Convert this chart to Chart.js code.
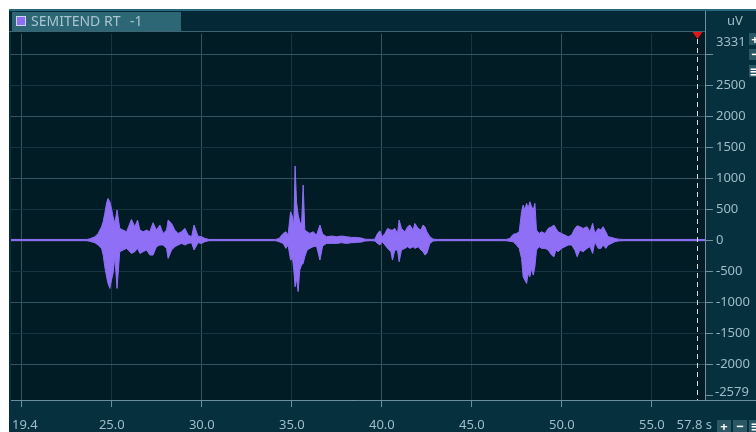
<!DOCTYPE html>
<html>
<head>
<meta charset="utf-8">
<script src="https://cdn.jsdelivr.net/npm/chart.js@4.4.1/dist/chart.umd.min.js"></script>
<style>
html, body { margin: 0; padding: 0; background: #ffffff; }
#wrap { width: 756px; height: 432px; }
</style>
</head>
<body>
<div id="wrap"><canvas id="emg" width="756" height="432"></canvas></div>
<script>
// channel + view window
var channelName = 'SEMITEND RT';
var channelIndex = '-1';
var timeMin = 19.4, timeMax = 57.95, timeEndLabel = 57.8;
var uvMin = -2579, uvMax = 3331;
var cursorTime = 57.53;

// envelope of the raw EMG trace (seconds, uV)
var tSec = [
	19.4, 23.6,
	23.78, 24.06, 24.24, 24.43, 24.52, 24.61, 24.71, 24.79, 24.89, 24.98, 25.07, 25.17, 25.29, 25.44, 25.63, 25.82,
	26.09, 26.28, 26.43, 26.56, 26.74, 26.93, 27.11, 27.29, 27.48, 27.67, 27.85, 28.04, 28.13, 28.32, 28.50, 28.68,
	28.87, 29.06, 29.24, 29.43, 29.57, 29.79, 29.98, 30.17,
	30.4, 34.1,
	34.29, 34.52, 34.67, 34.79, 34.93, 35.04, 35.11, 35.18, 35.26, 35.35, 35.44, 35.54, 35.63, 35.72, 35.85, 36.00,
	36.18, 36.37, 36.56, 36.71, 36.93, 37.21, 37.48, 37.76, 38.04, 38.32, 38.59, 38.87, 39.06,
	39.4,
	39.61, 39.76, 39.89, 40.02, 40.17, 40.32, 40.50, 40.59, 40.72, 40.87, 40.96, 41.09, 41.28, 41.43, 41.56, 41.74,
	41.83, 42.02, 42.17, 42.29, 42.39, 42.50, 42.67, 42.85,
	43.1, 46.9,
	47.11, 47.29, 47.48, 47.63, 47.76, 47.85, 47.94, 48.04, 48.13, 48.22, 48.32, 48.41, 48.50, 48.59, 48.74, 48.87,
	49.06, 49.24, 49.43, 49.56, 49.67, 49.79, 49.98, 50.17, 50.35, 50.54, 50.72, 50.85, 51.00, 51.18, 51.40, 51.56,
	51.71, 51.83, 52.02, 52.17, 52.29, 52.44, 52.57, 52.76, 52.94, 53.13,
	53.4, 57.95
];
var upperUv = [
	10, 10,
	20, 53, 107, 215, 296, 430, 597, 672, 618, 511, 376, 269, 484, 188, 161, 134,
	333, 215, 323, 161, 134, 161, 134, 280, 161, 242, 107, 161, 323, 269, 161, 107,
	134, 188, 80, 54, 242, 62, 54, 27,
	10, 10,
	27, 107, 134, 80, 457, 376, 215, 1194, 618, 403, 296, 242, 887, 161, 134, 107,
	134, 80, 242, 97, 54, 65, 54, 65, 54, 43, 43, 32, 15,
	10,
	15, 107, 150, 54, 107, 188, 161, 161, 188, 107, 323, 188, 134, 215, 242, 161,
	269, 188, 161, 242, 215, 134, 54, 15,
	10, 10,
	27, 91, 107, 134, 457, 565, 484, 592, 511, 618, 538, 484, 592, 161, 107, 134,
	107, 188, 215, 242, 188, 134, 107, 80, 54, 80, 188, 231, 215, 188, 215, 134,
	269, 107, 188, 161, 215, 134, 54, 43, 27, 15,
	10, 10
];
var lowerUv = [
	-10, -10,
	-20, -43, -80, -134, -242, -430, -592, -699, -780, -645, -538, -269, -780, -188, -161, -134,
	-215, -188, -134, -215, -188, -161, -242, -242, -107, -80, -80, -134, -296, -161, -107, -80,
	-54, -80, -54, -43, -161, -43, -54, -27,
	-10, -10,
	-27, -54, -134, -80, -323, -296, -484, -753, -618, -830, -484, -403, -376, -269, -161, -134,
	-107, -97, -323, -97, -54, -54, -54, -43, -54, -43, -38, -32, -15,
	-10,
	-15, -54, -80, -27, -80, -134, -188, -323, -161, -161, -350, -161, -134, -107, -134, -107,
	-134, -107, -161, -188, -242, -215, -54, -15,
	-10, -10,
	-20, -27, -80, -134, -296, -592, -645, -699, -538, -592, -457, -565, -430, -161, -107, -134,
	-134, -161, -242, -269, -161, -188, -134, -107, -80, -80, -161, -269, -161, -188, -134, -107,
	-215, -27, -134, -134, -80, -134, -80, -54, -27, -15,
	-10, -10
];

// axis ticks
var xTickValues = [20, 25, 30, 35, 40, 45, 50, 55];
var yTickValues = [-2500, -2000, -1500, -1000, -500, 0, 500, 1000, 1500, 2000, 2500, 3000];

var traceColor = '#8f6ff6';
var labelColor = '#9fbbc8';
var majorGrid = '#325561';
var minorGrid = '#163541';
var axisColor = '#6d909d';
var fontFamily = '"Noto Sans", "DejaVu Sans", sans-serif';

function toPoints(values) {
	return values.map(function(v, i) {
		return { x: tSec[i], y: v };
	});
}

var panelPlugin = {
	id: 'panel',
	beforeDraw: function(chart) {
		var c = chart.ctx;
		var a = chart.chartArea;
		c.save();
		c.fillStyle = '#ffffff';
		c.fillRect(0, 0, 756, 432);
		c.fillStyle = '#06303d';
		c.fillRect(9, 9, 747, 423);
		c.fillStyle = '#2a6a7c';
		c.fillRect(9, 9, 747, 2);
		c.fillStyle = '#042835';
		c.fillRect(9, 11, 696, 21);
		// plot background
		c.fillStyle = '#021c26';
		c.fillRect(a.left, 32, a.right - a.left, a.bottom - 32);
		// channel strip
		c.fillStyle = '#2d6674';
		c.fillRect(12, 12, 169, 19);
		c.fillStyle = traceColor;
		c.fillRect(17, 17, 8, 8);
		c.strokeStyle = '#c9d6f5';
		c.lineWidth = 1;
		c.strokeRect(16.5, 16.5, 9, 9);
		c.fillStyle = '#a9c5d0';
		c.font = '14px ' + fontFamily;
		c.textBaseline = 'middle';
		c.textAlign = 'left';
		c.fillText(channelName, 31, 22);
		c.fillText(channelIndex, 130, 22);
		c.restore();
	},
	afterDraw: function(chart) {
		var c = chart.ctx;
		var a = chart.chartArea;
		var xs = chart.scales.x;
		c.save();
		// frame lines
		c.strokeStyle = axisColor;
		c.lineWidth = 1;
		c.beginPath();
		c.moveTo(a.right + 0.5, 11);
		c.lineTo(a.right + 0.5, a.bottom);
		c.moveTo(a.right, a.bottom + 0.5);
		c.lineTo(756, a.bottom + 0.5);
		c.stroke();
		c.strokeStyle = '#3d6470';
		c.beginPath();
		c.moveTo(9, 31.5);
		c.lineTo(a.right, 31.5);
		c.stroke();
		// cursor
		var cx = Math.round(xs.getPixelForValue(cursorTime)) + 0.5;
		c.strokeStyle = '#d5dbde';
		c.setLineDash([5, 4]);
		c.beginPath();
		c.moveTo(cx, 39);
		c.lineTo(cx, a.bottom);
		c.stroke();
		c.setLineDash([]);
		c.fillStyle = '#e3141a';
		c.beginPath();
		c.moveTo(cx - 5, 32);
		c.lineTo(cx + 5, 32);
		c.lineTo(cx, 39);
		c.closePath();
		c.fill();
		// edge labels
		c.fillStyle = labelColor;
		c.font = '13px ' + fontFamily;
		c.textBaseline = 'middle';
		c.textAlign = 'left';
		c.fillText(String(timeMin), a.left + 1, 425);
		c.textAlign = 'center';
		c.fillText(timeEndLabel.toFixed(1) + ' s', xs.getPixelForValue(timeEndLabel) - 8, 425);
		c.textAlign = 'left';
		c.fillText(String(uvMax), 716, 42);
		c.fillText(String(uvMin), 715, 392);
		c.textAlign = 'center';
		c.fillText('uV', 735, 21);
		// zoom buttons
		var btns = [[717, 420, 14, 12, '+'], [733, 420, 14, 12, '\u2212'], [749, 420, 14, 12, '\u2261'],
			[749, 33, 12, 12, '+'], [749, 49, 12, 11, '\u2212'], [749, 65, 12, 12, '\u2261']];
		btns.forEach(function(b) {
			c.fillStyle = '#2c5866';
			c.fillRect(b[0], b[1], b[2], b[3]);
			c.fillStyle = '#ffffff';
			c.font = 'bold 13px ' + fontFamily;
			c.fillText(b[4], b[0] + b[2] / 2, b[1] + b[3] / 2 + 1);
		});
		c.restore();
	}
};

var ctx = document.getElementById('emg').getContext('2d');
var emgChart = new Chart(ctx, {
	type: 'line',
	data: {
		datasets: [{
			label: channelName,
			data: toPoints(upperUv),
			borderColor: traceColor,
			backgroundColor: traceColor,
			borderWidth: 1,
			pointRadius: 0,
			fill: 'origin'
		}, {
			label: channelName + ' min',
			data: toPoints(lowerUv),
			borderColor: traceColor,
			backgroundColor: traceColor,
			borderWidth: 1,
			pointRadius: 0,
			fill: 'origin'
		}]
	},
	options: {
		responsive: false,
		animation: false,
		devicePixelRatio: 1,
		layout: { padding: { left: 11, top: 33.5, right: 0, bottom: 0 } },
		plugins: {
			legend: { display: false },
			tooltip: { enabled: false }
		},
		scales: {
			x: {
				type: 'linear',
				position: 'bottom',
				min: timeMin,
				max: timeMax,
				afterBuildTicks: function(scale) {
					scale.ticks = xTickValues.map(function(v) { return { value: v }; });
				},
				afterFit: function(scale) { scale.height = 32; },
				ticks: {
					autoSkip: false,
					maxRotation: 0,
					padding: 10,
					color: labelColor,
					font: { family: fontFamily, size: 13 },
					callback: function(v) { return v === 20 ? '' : Number(v).toFixed(1); }
				},
				grid: {
					color: function(context) {
						return context.tick && context.tick.value % 10 === 0 ? majorGrid : minorGrid;
					},
					tickColor: axisColor,
					tickLength: 7
				},
				border: { color: axisColor }
			},
			y: {
				type: 'linear',
				position: 'right',
				min: uvMin,
				max: uvMax,
				afterBuildTicks: function(scale) {
					scale.ticks = yTickValues.map(function(v) { return { value: v }; });
				},
				afterFit: function(scale) { scale.width = 51; },
				ticks: {
					padding: 3,
					color: labelColor,
					font: { family: fontFamily, size: 13 },
					callback: function(v) { return (v === 3000 || v === -2500) ? '' : String(v); }
				},
				grid: {
					color: function(context) {
						if (!context.tick) return minorGrid;
						if (context.tick.value === -2500) return 'rgba(0,0,0,0)';
						return context.tick.value % 1000 === 0 ? majorGrid : minorGrid;
					},
					tickColor: axisColor,
					tickLength: 8
				},
				border: { color: axisColor }
			}
		}
	},
	plugins: [panelPlugin]
});
</script>
</body>
</html>
